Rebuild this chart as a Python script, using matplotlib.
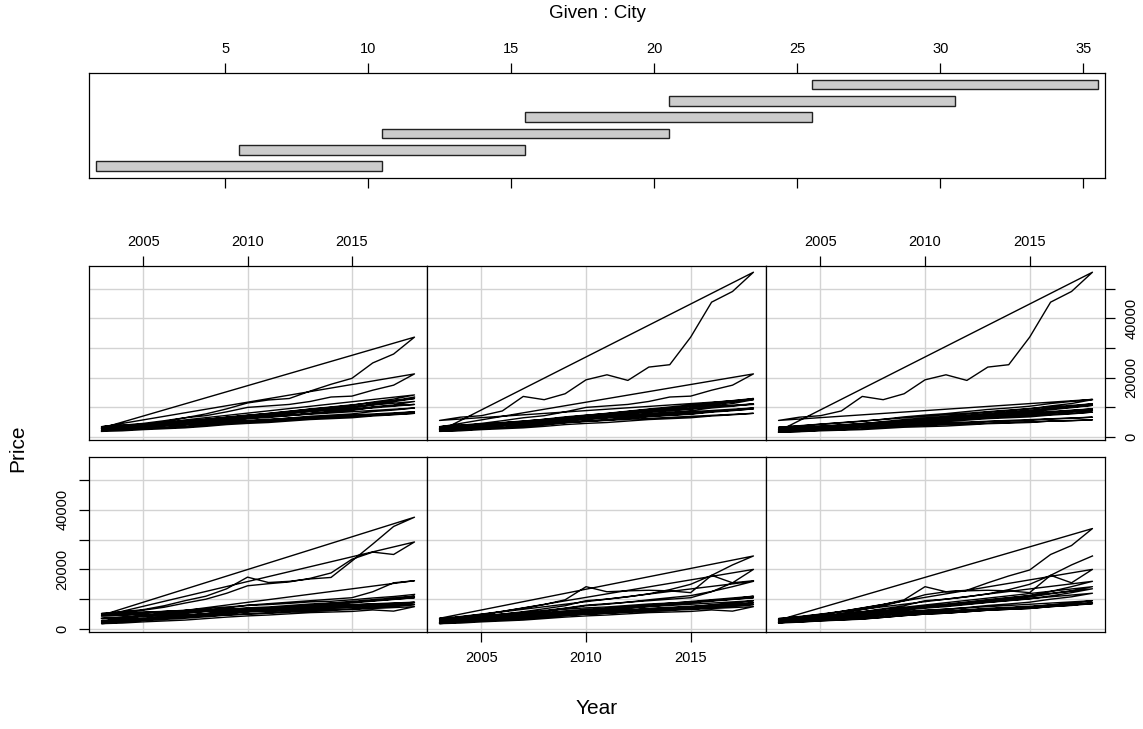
import matplotlib
matplotlib.use('Agg')
import matplotlib.pyplot as plt

plt.rcParams['font.family'] = ['Liberation Sans', 'DejaVu Sans']

# ---------------- data ----------------
years = list(range(2003, 2019))
price_c01 = [4600, 4900, 5300, 5900, 6300, 6800, 7400, 7900, 8200, 8600, 9100, 9300, 9800, 10400, 10900, 11600]
price_c02 = [5200, 5800, 6500, 7800, 9500, 11000, 13500, 17400, 15600, 16000, 16800, 17300, 22800, 28500, 34400, 37500]
price_c03 = [4300, 4500, 4900, 5200, 5500, 5900, 6100, 6400, 6800, 7000, 7100, 7400, 7700, 7800, 7600, 8800]
price_c04 = [5000, 5600, 6300, 7300, 8700, 10000, 12000, 14500, 15200, 15800, 17000, 18800, 23400, 25800, 25000, 29200]
price_c05 = [2600, 2900, 3400, 3700, 4300, 4700, 5100, 5900, 6100, 6400, 6900, 7300, 7400, 7900, 8300, 9000]
price_c06 = [3500, 3900, 4400, 5000, 5600, 6200, 7000, 8000, 8500, 9000, 9500, 10000, 10500, 12500, 15500, 16200]
price_c07 = [2200, 2500, 2900, 3200, 3600, 4100, 4700, 5100, 5400, 5900, 6300, 6500, 6700, 7200, 7600, 8200]
price_c08 = [2800, 3100, 3600, 4000, 4500, 5200, 6000, 6600, 6900, 7500, 7900, 8300, 9000, 9500, 10100, 11000]
price_c09 = [1800, 2000, 2400, 2700, 3000, 3500, 4000, 4400, 4700, 5100, 5500, 5700, 5900, 6400, 6000, 7500]
price_c10 = [3600, 3900, 4400, 4800, 5200, 5900, 6600, 7100, 7400, 7900, 8400, 8700, 9000, 9600, 10000, 10500]
price_c11 = [3500, 4200, 5000, 5900, 7000, 8200, 9800, 14200, 12500, 12800, 13000, 12800, 12200, 18000, 21500, 24500]
price_c12 = [2400, 2700, 3100, 3400, 3800, 4400, 5000, 5500, 5800, 6300, 6800, 7100, 7400, 8100, 8700, 9500]
price_c13 = [3200, 3700, 4300, 5000, 5800, 6800, 7800, 9500, 10000, 10800, 11800, 13200, 15000, 18000, 15500, 20000]
price_c14 = [3000, 3400, 4000, 4500, 5100, 6000, 6900, 7800, 8300, 9000, 9800, 10500, 11200, 12600, 14200, 16000]
price_c15 = [2000, 2300, 2700, 3000, 3300, 3900, 4500, 5000, 5300, 5800, 6300, 6600, 6900, 7500, 8000, 8800]
price_c16 = [3000, 3400, 3900, 4300, 4800, 5500, 6300, 7000, 7500, 8200, 8900, 9500, 10100, 11100, 12200, 13500]
price_c17 = [3000, 3600, 4300, 5200, 6500, 7800, 9500, 11500, 12500, 13000, 15500, 17800, 19800, 25000, 28000, 33700]
price_c18 = [2700, 3000, 3500, 3800, 4200, 4900, 5600, 6200, 6600, 7200, 7900, 8400, 9000, 10000, 10800, 12000]
price_c19 = [3100, 3500, 4100, 4600, 5100, 5900, 6700, 7400, 7900, 8600, 9400, 10000, 10700, 11800, 12800, 14200]
price_c20 = [2200, 2400, 2800, 3100, 3400, 3900, 4500, 5000, 5300, 5800, 6300, 6600, 6900, 7500, 7900, 8500]
price_c21 = [3400, 3700, 4200, 4600, 5100, 5800, 6500, 7100, 7500, 8100, 8700, 9100, 9500, 10200, 10600, 11000]
price_c22 = [3500, 4000, 4600, 5500, 6500, 7200, 8500, 10000, 10500, 11000, 12000, 13500, 13800, 15800, 17500, 21300]
price_c23 = [2300, 2600, 3000, 3300, 3700, 4300, 4900, 5400, 5800, 6400, 7000, 7400, 7800, 8600, 9100, 9800]
price_c24 = [2900, 3200, 3800, 4200, 4700, 5400, 6100, 6800, 7300, 8000, 8700, 9300, 9900, 10900, 11900, 13000]
price_c25 = [1900, 2100, 2500, 2800, 3100, 3600, 4200, 4600, 4900, 5400, 5900, 6200, 6500, 7100, 7500, 8000]
price_c26 = [2800, 3100, 3600, 4000, 4500, 5200, 5900, 6500, 7000, 7700, 8400, 8900, 9500, 10500, 11300, 12600]
price_c27 = [2000, 2300, 2800, 3100, 3500, 4100, 4800, 5300, 5700, 6300, 6900, 7300, 7700, 8400, 8900, 9500]
price_c28 = [5600, 6700, 7200, 8800, 13700, 12600, 14600, 19300, 21000, 19100, 23600, 24400, 33700, 45500, 49100, 55600]
price_c29 = [3300, 3700, 4300, 4800, 5300, 6000, 6800, 7400, 7900, 8600, 9300, 9800, 10400, 11300, 12000, 12700]
price_c30 = [2600, 2900, 3400, 3800, 4200, 4900, 5600, 6100, 6600, 7200, 7900, 8400, 8900, 9800, 10400, 11200]
price_c31 = [1700, 1900, 2300, 2500, 2800, 3300, 3800, 4100, 4400, 4800, 5200, 5400, 5600, 6100, 6300, 6700]
price_c32 = [2500, 2800, 3300, 3600, 4000, 4600, 5300, 5800, 6200, 6800, 7400, 7900, 8400, 9200, 9900, 10700]
price_c33 = [2100, 2300, 2700, 3000, 3300, 3900, 4500, 4900, 5200, 5700, 6200, 6500, 6800, 7400, 7800, 8400]
price_c34 = [2400, 2700, 3100, 3400, 3800, 4400, 5000, 5400, 5800, 6300, 6900, 7200, 7600, 8300, 8600, 9000]
price_c35 = [1600, 1800, 2100, 2300, 2500, 2900, 3300, 3500, 3700, 4100, 4500, 4700, 4900, 5400, 5500, 5800]

prices = [price_c01, price_c02, price_c03, price_c04, price_c05, price_c06, price_c07,
          price_c08, price_c09, price_c10, price_c11, price_c12, price_c13, price_c14,
          price_c15, price_c16, price_c17, price_c18, price_c19, price_c20, price_c21,
          price_c22, price_c23, price_c24, price_c25, price_c26, price_c27, price_c28,
          price_c29, price_c30, price_c31, price_c32, price_c33, price_c34, price_c35]
city_ids = list(range(1, 36))

given_lo = [0.5, 5.5, 10.5, 15.5, 20.5, 25.5]
given_hi = [10.5, 15.5, 20.5, 25.5, 30.5, 35.5]

x_ticks = [2005, 2010, 2015]
y_ticks = [0, 10000, 20000, 30000, 40000, 50000]
y_ticklabels = ['0', '', '20000', '', '40000', '']
given_ticks = [5, 10, 15, 20, 25, 30, 35]

# ---------------- figure ----------------
W, H = 1143, 729
fig = plt.figure(figsize=(W / 100, H / 100), dpi=100)


def ax_px(x0, y0, x1, y1):
    return fig.add_axes([x0 / W, 1 - y1 / H, (x1 - x0) / W, (y1 - y0) / H])


TFS = 10.5
# given panel
gax = ax_px(89, 73, 1105, 178)
for i, (lo, hi) in enumerate(zip(given_lo, given_hi)):
    gax.barh(i + 1, hi - lo, left=lo, height=0.6, color='#cccccc',
             edgecolor='#222222', linewidth=1.0)
gax.set_xlim(0.24, 35.76)
gax.set_ylim(0.27, 6.71)
gax.set_yticks([])
gax.set_xticks(given_ticks)
gax.set_xticklabels([str(t) for t in given_ticks])
gax.tick_params(axis='x', top=True, bottom=True, labeltop=True, labelbottom=False,
                direction='out', length=7, width=0.9, labelsize=TFS, pad=5)
for s in gax.spines.values():
    s.set_linewidth(0.9)
fig.text(597 / W, 1 - 13 / H, 'Given : City', ha='center', va='center', fontsize=13.5)

# main panels
cols = [(89, 427), (427, 766), (766, 1105)]
rows = {'top': (266, 440), 'bottom': (457, 632)}
panel_pos = [('bottom', 0), ('bottom', 1), ('bottom', 2), ('top', 0), ('top', 1), ('top', 2)]

for p, (r, c) in enumerate(panel_pos):
    x0, x1 = cols[c]
    y0, y1 = rows[r]
    ax = ax_px(x0, y0, x1, y1)
    lo, hi = given_lo[p], given_hi[p]
    xs, ys = [], []
    for cid, vals in zip(city_ids, prices):
        if lo <= cid <= hi:
            xs.extend(years[::-1])
            ys.extend(vals[::-1])
    ax.plot(xs, ys, color='black', linewidth=1.0)
    ax.set_xlim(2002.4, 2018.6)
    ax.set_ylim(-1000, 57700)
    ax.set_xticks(x_ticks)
    ax.set_xticklabels([str(t) for t in x_ticks])
    ax.set_yticks(y_ticks)
    ax.set_yticklabels(y_ticklabels)
    ax.grid(True, color='#d3d3d3', linewidth=1.0)
    ax.set_axisbelow(True)
    for s in ax.spines.values():
        s.set_linewidth(0.9)
    ax.tick_params(axis='both', which='both', bottom=False, top=False, left=False,
                   right=False, labelbottom=False, labeltop=False, labelleft=False,
                   labelright=False, direction='out', length=7, width=0.9,
                   labelsize=TFS)
    if p == 0:
        ax.tick_params(axis='y', left=True, labelleft=True, pad=7)
        for lab in ax.get_yticklabels():
            lab.set_rotation(90)
            lab.set_va('center')
    if p == 1:
        ax.tick_params(axis='x', bottom=True, labelbottom=True, pad=7)
    if p in (3, 5):
        ax.tick_params(axis='x', top=True, labeltop=True, pad=5)
    if p == 5:
        ax.tick_params(axis='y', right=True, labelright=True, pad=7)
        for lab in ax.get_yticklabels():
            lab.set_rotation(90)
            lab.set_va('center')

fig.text(597 / W, 1 - 709 / H, 'Year', ha='center', va='center', fontsize=15)
fig.text(18 / W, 1 - 448 / H, 'Price', ha='center', va='center', rotation=90, fontsize=15)

fig.savefig('out.png', dpi=100)
